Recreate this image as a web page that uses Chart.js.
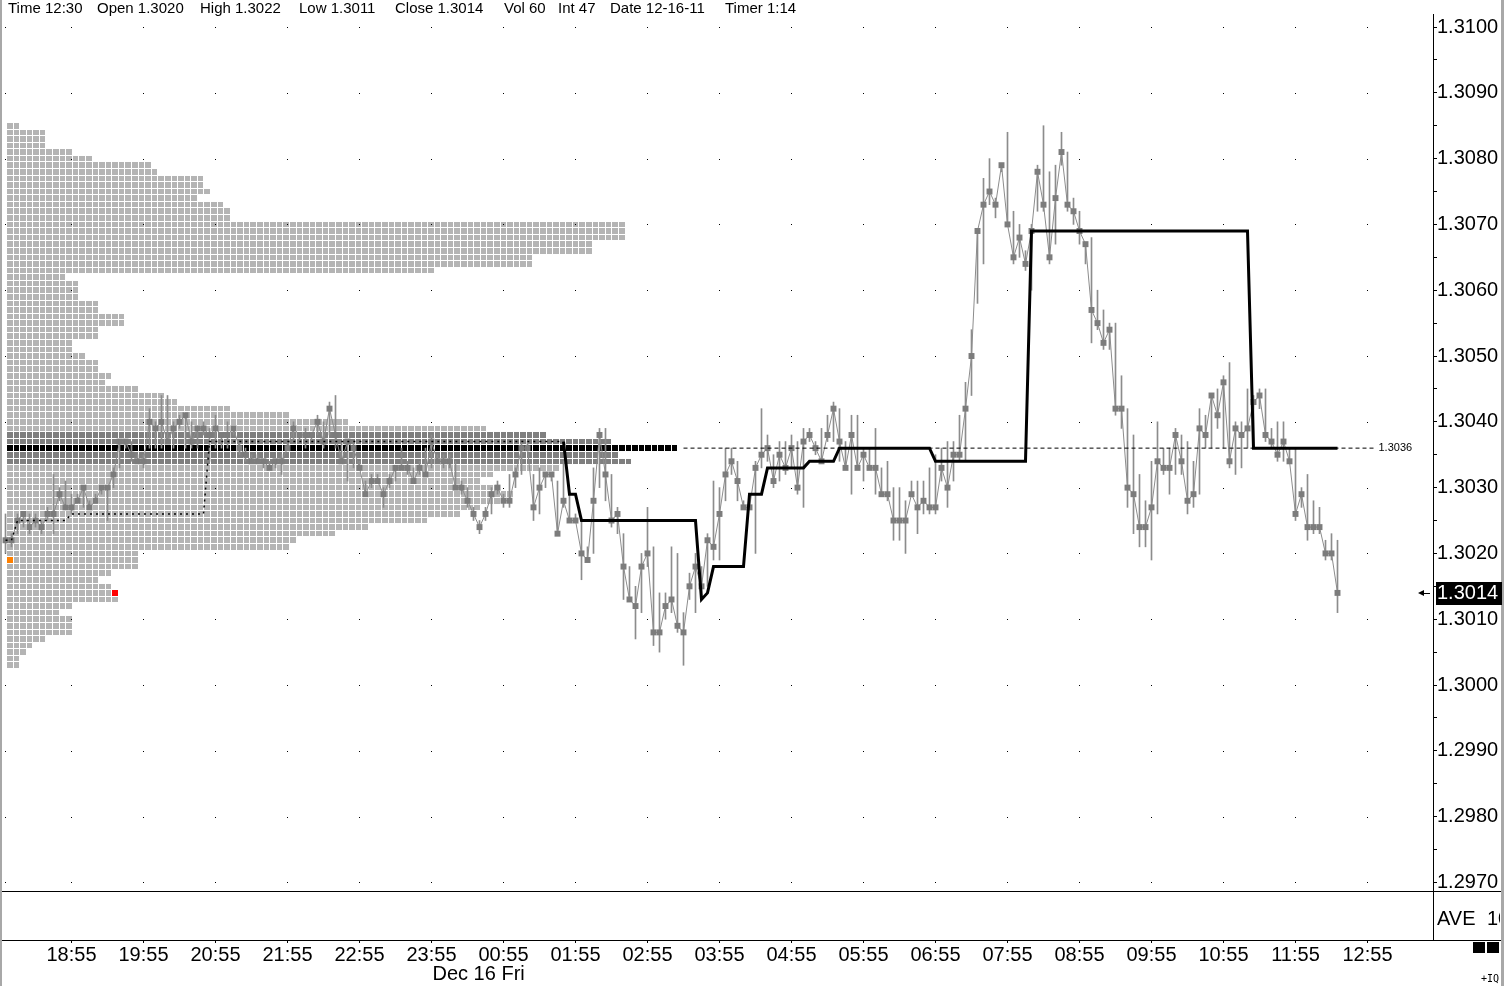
<!DOCTYPE html>
<html><head><meta charset="utf-8">
<script src="https://cdn.jsdelivr.net/npm/chart.js@4/dist/chart.umd.min.js"></script>
<style>html,body{margin:0;padding:0;background:#fff;overflow:hidden}canvas{display:block}</style>
</head><body>
<canvas id="c" width="1504" height="986"></canvas>
<script>
// ---------- DATA ----------
const headerItems = ['Time 12:30','Open 1.3020','High 1.3022','Low 1.3011','Close 1.3014','Vol 60','Int 47','Date 12-16-11','Timer 1:14'];
const tickLabels = ['18:55','19:55','20:55','21:55','22:55','23:55','00:55','01:55','02:55','03:55','04:55','05:55','06:55','07:55','08:55','09:55','10:55','11:55','12:55'];
const dateLabel = 'Dec 16 Fri';
const dateChangeTime = '00:00';
const priceLabels = [1.2970,1.2980,1.2990,1.3000,1.3010,1.3020,1.3030,1.3040,1.3050,1.3060,1.3070,1.3080,1.3090,1.3100];

const closes = [
1.3022,1.3022,1.3025,1.3026,1.3024,1.3025,1.3024,1.3026,1.3026,1.3029,
1.3027,1.3027,1.3028,1.3030,1.3027,1.3028,1.3030,1.3030,1.3032,1.3037,
1.3037,1.3035,1.3034,1.3034,1.3040,1.3039,1.3040,1.3037,1.3039,1.3040,
1.3041,1.3037,1.3039,1.3039,1.3038,1.3039,1.3038,1.3038,1.3039,1.3036,
1.3035,1.3034,1.3034,1.3034,1.3033,1.3034,1.3034,1.3036,1.3039,1.3038,
1.3038,1.3038,1.3040,1.3037,1.3042,1.3038,1.3034,1.3037,1.3036,1.3033,
1.3029,1.3031,1.3031,1.3029,1.3031,1.3033,1.3033,1.3033,1.3031,1.3033,
1.3032,1.3037,1.3034,1.3034,1.3034,1.3030,1.3030,1.3028,1.3026,1.3024,
1.3026,1.3029,1.3030,1.3028,1.3028,1.3032,1.3036,1.3036,1.3027,1.3030,
1.3032,1.3032,1.3023,1.3028,1.3025,1.3025,1.3020,1.3019,1.3028,1.3038,
1.3032,1.3025,1.3026,1.3018,1.3013,1.3012,1.3018,1.3020,1.3008,1.3008,
1.3012,1.3013,1.3009,1.3008,1.3015,1.3018,1.3015,1.3022,1.3021,1.3026,
1.3032,1.3034,1.3031,1.3027,1.3027,1.3033,1.3035,1.3036,1.3031,1.3035,
1.3033,1.3036,1.3030,1.3037,1.3038,1.3036,1.3034,1.3038,1.3042,1.3037,
1.3033,1.3038,1.3033,1.3035,1.3033,1.3033,1.3029,1.3029,1.3025,1.3025,
1.3025,1.3029,1.3027,1.3028,1.3027,1.3027,1.3033,1.3030,1.3035,1.3035,
1.3042,1.3050,1.3069,1.3073,1.3075,1.3073,1.3079,1.3070,1.3065,1.3068,
1.3064,1.3069,1.3078,1.3073,1.3065,1.3074,1.3081,1.3073,1.3072,1.3069,
1.3067,1.3057,1.3055,1.3052,1.3054,1.3042,1.3042,1.3030,1.3029,1.3024,
1.3024,1.3027,1.3034,1.3033,1.3033,1.3038,1.3034,1.3028,1.3029,1.3039,
1.3038,1.3044,1.3041,1.3046,1.3034,1.3039,1.3038,1.3039,1.3043,1.3044,
1.3038,1.3037,1.3035,1.3037,1.3034,1.3026,1.3029,1.3024,1.3024,1.3024,
1.3020,1.3020,1.3014];

const highs = [
1.3026,1.3023,1.3026,1.3026,1.3026,1.3026,1.3025,1.3027,1.3032,1.3030,
1.3031,1.3029,1.3029,1.3030,1.3028,1.3029,1.3030,1.3030,1.3033,1.3037,
1.3037,1.3037,1.3035,1.3035,1.3042,1.3040,1.3044,1.3044,1.3040,1.3041,
1.3041,1.3040,1.3039,1.3040,1.3039,1.3041,1.3038,1.3040,1.3039,1.3037,
1.3036,1.3035,1.3035,1.3034,1.3034,1.3034,1.3035,1.3037,1.3040,1.3038,
1.3039,1.3038,1.3041,1.3040,1.3043,1.3044,1.3037,1.3037,1.3037,1.3034,
1.3031,1.3032,1.3032,1.3030,1.3032,1.3033,1.3036,1.3034,1.3033,1.3034,
1.3036,1.3038,1.3035,1.3035,1.3035,1.3034,1.3031,1.3030,1.3027,1.3025,
1.3027,1.3030,1.3031,1.3029,1.3032,1.3033,1.3037,1.3037,1.3032,1.3033,
1.3032,1.3032,1.3031,1.3034,1.3029,1.3026,1.3025,1.3021,1.3033,1.3039,
1.3039,1.3032,1.3027,1.3023,1.3018,1.3015,1.3020,1.3027,1.3021,1.3014,
1.3014,1.3021,1.3020,1.3011,1.3017,1.3020,1.3018,1.3023,1.3031,1.3030,
1.3036,1.3036,1.3034,1.3028,1.3029,1.3034,1.3042,1.3038,1.3035,1.3037,
1.3037,1.3038,1.3037,1.3039,1.3039,1.3037,1.3039,1.3041,1.3043,1.3042,
1.3037,1.3041,1.3041,1.3036,1.3036,1.3039,1.3033,1.3034,1.3030,1.3030,
1.3028,1.3031,1.3031,1.3031,1.3033,1.3035,1.3036,1.3037,1.3037,1.3041,
1.3046,1.3054,1.3069,1.3077,1.3080,1.3074,1.3079,1.3084,1.3072,1.3070,
1.3066,1.3070,1.3079,1.3085,1.3078,1.3079,1.3084,1.3081,1.3074,1.3072,
1.3067,1.3068,1.3060,1.3057,1.3055,1.3055,1.3047,1.3042,1.3038,1.3032,
1.3028,1.3034,1.3040,1.3036,1.3036,1.3039,1.3038,1.3037,1.3034,1.3042,
1.3041,1.3044,1.3045,1.3047,1.3049,1.3040,1.3040,1.3045,1.3044,1.3045,
1.3045,1.3039,1.3040,1.3040,1.3036,1.3036,1.3030,1.3032,1.3028,1.3027,
1.3022,1.3023,1.3022];

const lows = [
1.3020,1.3021,1.3023,1.3024,1.3023,1.3024,1.3023,1.3025,1.3023,1.3028,
1.3027,1.3026,1.3028,1.3027,1.3027,1.3028,1.3029,1.3025,1.3030,1.3033,
1.3036,1.3034,1.3034,1.3033,1.3036,1.3036,1.3036,1.3037,1.3036,1.3039,
1.3036,1.3036,1.3036,1.3038,1.3034,1.3036,1.3036,1.3036,1.3038,1.3035,
1.3034,1.3034,1.3034,1.3033,1.3033,1.3033,1.3032,1.3036,1.3037,1.3037,
1.3036,1.3037,1.3038,1.3036,1.3038,1.3036,1.3034,1.3031,1.3033,1.3033,
1.3029,1.3030,1.3031,1.3027,1.3030,1.3031,1.3033,1.3032,1.3031,1.3032,
1.3032,1.3033,1.3034,1.3033,1.3033,1.3030,1.3029,1.3027,1.3025,1.3023,
1.3025,1.3026,1.3029,1.3027,1.3027,1.3030,1.3032,1.3036,1.3025,1.3026,
1.3030,1.3031,1.3023,1.3027,1.3025,1.3025,1.3016,1.3019,1.3020,1.3030,
1.3028,1.3024,1.3023,1.3013,1.3013,1.3007,1.3011,1.3018,1.3006,1.3005,
1.3010,1.3011,1.3008,1.3003,1.3013,1.3011,1.3013,1.3015,1.3019,1.3019,
1.3028,1.3032,1.3028,1.3027,1.3027,1.3020,1.3033,1.3034,1.3030,1.3031,
1.3032,1.3033,1.3029,1.3027,1.3037,1.3035,1.3034,1.3037,1.3037,1.3034,
1.3033,1.3029,1.3033,1.3031,1.3033,1.3029,1.3029,1.3028,1.3022,1.3022,
1.3020,1.3029,1.3023,1.3026,1.3026,1.3026,1.3031,1.3027,1.3031,1.3034,
1.3034,1.3044,1.3058,1.3064,1.3073,1.3071,1.3078,1.3070,1.3064,1.3065,
1.3063,1.3060,1.3072,1.3072,1.3064,1.3067,1.3079,1.3072,1.3070,1.3067,
1.3064,1.3052,1.3054,1.3051,1.3051,1.3041,1.3039,1.3027,1.3023,1.3021,
1.3021,1.3019,1.3026,1.3032,1.3029,1.3032,1.3032,1.3026,1.3027,1.3029,
1.3036,1.3036,1.3039,1.3036,1.3033,1.3032,1.3033,1.3036,1.3036,1.3042,
1.3037,1.3036,1.3034,1.3034,1.3034,1.3025,1.3027,1.3022,1.3023,1.3023,
1.3019,1.3019,1.3011];

// developing POC before the session (dotted), bars 0..93
const devPocPre = [
1.3022,1.3022,
1.3025,1.3025,1.3025,1.3025,1.3025,1.3025,1.3025,1.3025,1.3025,
1.3026,1.3026,1.3026,1.3026,1.3026,1.3026,1.3026,1.3026,1.3026,1.3026,1.3026,1.3026,
1.3026,1.3026,1.3026,1.3026,1.3026,1.3026,1.3026,1.3026,1.3026,1.3026,1.3026,
1.3037,1.3037,1.3037,1.3037,1.3037,1.3037,1.3037,1.3037,1.3037,1.3037,
1.3037,1.3037,1.3037,1.3037,1.3037,1.3037,1.3037,1.3037,1.3037,1.3037,
1.3037,1.3037,1.3037,1.3037,1.3037,1.3037,1.3037,1.3037,1.3037,1.3037,
1.3037,1.3037,1.3037,1.3037,1.3037,1.3037,1.3037,1.3037,1.3037,1.3037,
1.3037,1.3037,1.3037,1.3037,1.3037,1.3037,1.3037,1.3037,1.3037,1.3037,
1.3037,1.3037,1.3037,1.3037,1.3037,1.3037,1.3037,1.3037,1.3037,1.3037];
// developing POC in session (solid), bars 93..222
const devPocStart = 93;
const devPoc = [
1.3037,1.3029,1.3029,
1.3025,1.3025,1.3025,1.3025,1.3025,1.3025,1.3025,1.3025,1.3025,1.3025,
1.3025,1.3025,1.3025,1.3025,1.3025,1.3025,1.3025,1.3025,1.3025,1.3025,
1.3013,1.3014,
1.3018,1.3018,1.3018,1.3018,1.3018,1.3018,
1.3029,1.3029,1.3029,
1.3033,1.3033,1.3033,1.3033,1.3033,1.3033,1.3033,
1.3034,1.3034,1.3034,1.3034,1.3034,
1.3036,1.3036,1.3036,1.3036,1.3036,1.3036,1.3036,1.3036,1.3036,1.3036,1.3036,1.3036,1.3036,1.3036,1.3036,1.3036,
1.3034,1.3034,1.3034,1.3034,1.3034,1.3034,1.3034,1.3034,1.3034,1.3034,1.3034,1.3034,1.3034,1.3034,1.3034,1.3034,
1.3069,1.3069,1.3069,1.3069,1.3069,1.3069,1.3069,1.3069,1.3069,1.3069,
1.3069,1.3069,1.3069,1.3069,1.3069,1.3069,1.3069,1.3069,1.3069,1.3069,
1.3069,1.3069,1.3069,1.3069,1.3069,1.3069,1.3069,1.3069,1.3069,1.3069,
1.3069,1.3069,1.3069,1.3069,1.3069,1.3069,1.3069,
1.3036,1.3036,1.3036,1.3036,1.3036,1.3036,1.3036,1.3036,1.3036,1.3036,1.3036,1.3036,1.3036,1.3036,1.3036];

// market profile: price rows and TPO counts
const profilePrices = [
1.3085,1.3084,1.3083,1.3082,1.3081,1.3080,1.3079,1.3078,1.3077,1.3076,
1.3075,1.3074,1.3073,1.3072,1.3071,1.3070,1.3069,1.3068,1.3067,1.3066,
1.3065,1.3064,1.3063,1.3062,1.3061,1.3060,1.3059,1.3058,1.3057,1.3056,
1.3055,1.3054,1.3053,1.3052,1.3051,1.3050,1.3049,1.3048,1.3047,1.3046,
1.3045,1.3044,1.3043,1.3042,1.3041,1.3040,1.3039,1.3038,1.3037,1.3036,
1.3035,1.3034,1.3033,1.3032,1.3031,1.3030,1.3029,1.3028,1.3027,1.3026,
1.3025,1.3024,1.3023,1.3022,1.3021,1.3020,1.3019,1.3018,1.3017,1.3016,
1.3015,1.3014,1.3013,1.3012,1.3011,1.3010,1.3009,1.3008,1.3007,1.3006,
1.3005,1.3004,1.3003];
const profileCounts = [
2,6,6,6,10,13,22,23,30,30,
31,29,33,34,34,94,94,94,89,89,
80,80,65,9,11,11,11,14,14,18,
18,14,14,10,10,12,14,14,16,15,
20,24,26,34,43,52,73,82,92,102,
93,95,84,74,72,75,77,75,72,69,
64,55,50,44,43,20,20,20,16,14,
16,17,17,10,8,10,10,10,6,4,
3,2,2];
const valueAreaRows = [1.3038,1.3037,1.3035,1.3034];
const pocPrice = 1.3036;
const pocLabel = '1.3036';
const pocLineStart = '03:25';
const pocLineEnd = '13:00';
const openPrice = 1.3019;
const lastPrice = 1.3014;
const lowerPanelName = 'AVE';
const lowerPanelValue = '10';

// ---------- helpers ----------
const sessionStartMin = 18*60, barMinutes = 5;
function barIndexOf(t){ const [h,m]=t.split(':').map(Number); let d=h*60+m-sessionStartMin; if(d<0) d+=1440; return d/barMinutes; }
const tickIdx = tickLabels.map(barIndexOf);
const FONT = '"Liberation Sans", Arial, sans-serif';
const yTicks = [];
priceLabels.forEach((v,i)=>{ yTicks.push({value:v, lbl:v.toFixed(4)}); if(i<priceLabels.length-1) yTicks.push({value:(v+priceLabels[i+1])/2, lbl:''}); });

const profilePlugin = {
  id:'profile',
  beforeDatasetsDraw(chart){
    const {ctx, chartArea:a, scales:{y}} = chart;
    const pitch = Math.abs(y.getPixelForValue(1.3000) - y.getPixelForValue(1.3001));
    const x0 = a.left + 7;
    ctx.save();
    profilePrices.forEach((p,r)=>{
      const yc = y.getPixelForValue(p);
      const t = Math.round(yc - pitch/2 + 0.5), b = Math.round(yc + pitch/2 - 0.5);
      let col = '#b4b4b4';
      if (Math.abs(p-pocPrice)<1e-7) col = '#000000';
      else if (valueAreaRows.some(v=>Math.abs(v-p)<1e-7)) col = '#7f7f7f';
      for(let k=0;k<profileCounts[r];k++){
        const l = Math.round(x0 + k*pitch), rr = Math.round(x0 + (k+1)*pitch) - 1;
        let c = col;
        if (k===0 && Math.abs(p-openPrice)<1e-7) c = '#ff8000';
        if (k===profileCounts[r]-1 && Math.abs(p-lastPrice)<1e-7) c = '#ff0000';
        ctx.fillStyle = c;
        ctx.fillRect(l, t, rr-l, b-t);
      }
    });
    // grid dots
    const xs = chart.scales.x;
    const gx = [xs.getPixelForValue(0)].concat(tickIdx.map(v=>xs.getPixelForValue(v)));
    ctx.fillStyle = '#000';
    priceLabels.forEach(v=>{
      const py = Math.round(y.getPixelForValue(v));
      gx.forEach(px=>{ if(px < a.right-2) ctx.fillRect(Math.floor(px), py, 1, 1); });
    });
    ctx.restore();
  }
};

const decoPlugin = {
  id:'deco',
  afterDraw(chart){
    const {ctx, chartArea:a, scales:{x,y}} = chart;
    ctx.save();
    // header
    ctx.fillStyle = '#000';
    ctx.font = '15px "Liberation Sans Narrow", ' + FONT;
    ctx.textBaseline = 'middle';
    const hx = [8,97,200,299,395,504,558,610,725];
    headerItems.forEach((s,i)=>ctx.fillText(s, hx[i], 9));
    // panel lines
    ctx.fillRect(0, 891, 1504, 1);
    ctx.fillRect(0, Math.round(a.bottom), 1504, 1);
    ctx.fillRect(Math.round(a.right), 14, 1, a.bottom-14);
    // borders
    ctx.fillStyle = '#a8a8a8';
    ctx.fillRect(0, 0, 2, 986);
    ctx.fillRect(1501, 0, 3, 986);
    // POC label
    ctx.fillStyle = '#000';
    ctx.font = '11px ' + FONT;
    ctx.textAlign = 'left';
    ctx.fillText(pocLabel, x.getPixelForValue(barIndexOf(pocLineEnd)) + 5, y.getPixelForValue(pocPrice));
    // date label
    ctx.font = '20px ' + FONT;
    ctx.fillText(dateLabel, x.getPixelForValue(barIndexOf(dateChangeTime)) - 5, 974);
    // lower panel label
    ctx.save();
    ctx.beginPath(); ctx.rect(a.right+1, 893, 1500-a.right-1, 46); ctx.clip();
    ctx.fillText(lowerPanelName, 1437, 919);
    ctx.fillText(lowerPanelValue, 1487, 919);
    ctx.restore();
    // price tag
    const ly = y.getPixelForValue(lastPrice);
    ctx.fillStyle = '#000';
    ctx.fillRect(1436, Math.round(ly-11), 66, 23);
    ctx.fillStyle = '#fff';
    ctx.fillText(lastPrice.toFixed(4), 1437, ly+1);
    // arrow
    ctx.fillStyle = '#000';
    ctx.beginPath(); ctx.moveTo(1418, Math.round(ly)); ctx.lineTo(1424, Math.round(ly)-3); ctx.lineTo(1424, Math.round(ly)+3); ctx.closePath(); ctx.fill();
    ctx.fillRect(1424, Math.round(ly), 6, 1);
    // bottom right
    ctx.fillRect(1473, 942, 12, 11);
    ctx.fillRect(1487, 942, 12, 11);
    ctx.font = '10px "DejaVu Sans Mono", monospace';
    ctx.fillText('+IQ', 1481, 979);
    ctx.restore();
  }
};

Chart.defaults.font.family = FONT;
new Chart(document.getElementById('c'), {
  type:'line',
  data:{ datasets:[
    {type:'bar', label:'Range', data: closes.map((c,i)=>({x:i, y:[lows[i], highs[i]]})), backgroundColor:'#8c8c8c', barThickness:1, grouped:false, order:5},
    {type:'line', label:'Close', data: closes.map((c,i)=>({x:i, y:c})), borderColor:'#8c8c8c', borderWidth:1, pointStyle:'rect', pointRadius:4.2, pointBackgroundColor:'#7c7c7c', pointBorderWidth:0, order:4},
    {type:'line', label:'POC pre', data: devPocPre.map((v,i)=>({x:i, y:v})), borderColor:'#000', borderWidth:1.5, borderDash:[2,4], pointRadius:0, order:3},
    {type:'line', label:'POC', data: devPoc.map((v,i)=>({x:i+devPocStart, y:v})), borderColor:'#000', borderWidth:3, pointRadius:0, order:2},
    {type:'line', label:'POC ext', data:[{x:barIndexOf(pocLineStart), y:pocPrice},{x:barIndexOf(pocLineEnd), y:pocPrice}], borderColor:'#000', borderWidth:1, borderDash:[4,3], pointRadius:0, order:1}
  ]},
  options:{
    responsive:false, animation:false, devicePixelRatio:1,
    layout:{autoPadding:false, padding:{top:18,left:0,right:0,bottom:0}},
    plugins:{legend:{display:false}, tooltip:{enabled:false}, title:{display:false}},
    scales:{
      x:{type:'linear', min:-0.91667, max:237.91667, offset:false,
        afterFit(s){ s.height = 46; },
        afterBuildTicks(s){ s.ticks = tickIdx.map(v=>({value:v})); },
        ticks:{autoSkip:false, maxRotation:0, color:'#000', font:{size:20}, padding:0,
          callback:(v,i)=>tickLabels[i]},
        grid:{drawOnChartArea:false, drawTicks:true, tickLength:3, tickColor:'#000', offset:false},
        border:{display:true, color:'#000', width:1}
      },
      y:{type:'linear', position:'right', min:1.296125, max:1.310137,
        afterFit(s){ s.width = 71; },
        afterBuildTicks(s){ s.ticks = yTicks.map(t=>({value:t.value})); },
        ticks:{autoSkip:false, color:'#000', font:{size:20}, padding:0,
          callback:(v,i)=>yTicks[i] ? yTicks[i].lbl : ''},
        grid:{drawOnChartArea:false, drawTicks:true, tickLength:4, tickColor:'#000'},
        border:{display:true, color:'#000', width:1}
      }
    }
  },
  plugins:[profilePlugin, decoPlugin]
});
</script>
</body></html>
